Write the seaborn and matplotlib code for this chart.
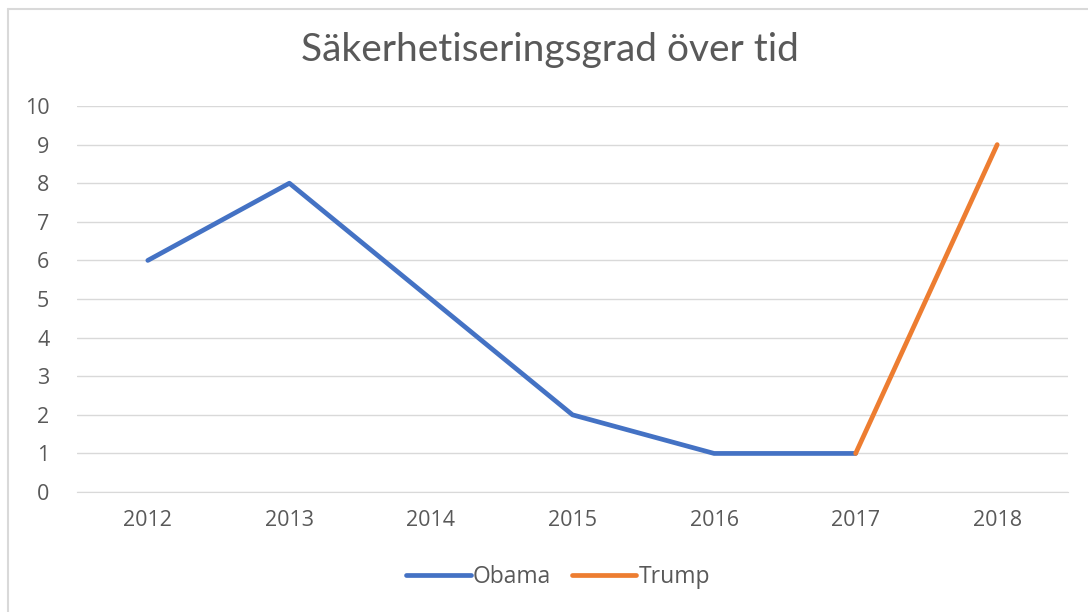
import matplotlib
matplotlib.use("Agg")
import matplotlib.pyplot as plt
import pandas as pd
import seaborn as sns
from matplotlib.lines import Line2D

# data
years_obama = [2012, 2013, 2014, 2015, 2016, 2017]
values_obama = [6, 8, 5, 2, 1, 1]
years_trump = [2017, 2018]
values_trump = [1, 9]
title = "Säkerhetiseringsgrad över tid"

df = pd.concat([
    pd.DataFrame({"year": years_obama, "value": values_obama, "president": "Obama"}),
    pd.DataFrame({"year": years_trump, "value": values_trump, "president": "Trump"}),
])

sns.set_style("white")
plt.rcParams['font.family'] = ['Open Sans', 'DejaVu Sans']

palette = {"Obama": "#4472C4", "Trump": "#ED7D31"}
grey = "#595959"

fig = plt.figure(figsize=(10.88, 6.12), dpi=100)
ax = fig.add_axes([0.0708, 0.196, 0.9108, 0.6308])

sns.lineplot(data=df, x="year", y="value", hue="president", palette=palette,
             linewidth=3.4, ax=ax, legend=False, sort=False)

ax.set_xlim(2011.5, 2018.5)
ax.set_ylim(0, 10)
ax.set_yticks(range(0, 11))
ax.set_xticks(range(2012, 2019))
ax.yaxis.grid(True, color="#D9D9D9", linewidth=1)
ax.set_axisbelow(True)
for s in ["top", "right", "left"]:
    ax.spines[s].set_visible(False)
ax.spines["bottom"].set_color("#D9D9D9")
ax.tick_params(axis="both", length=0, labelsize=15.5, labelcolor=grey)
ax.tick_params(axis="y", pad=20)
ax.tick_params(axis="x", pad=13)
ax.set_xlabel("")
ax.set_ylabel("")

fig.text(0.505, 0.918, title, ha="center", va="center", fontsize=28,
         color=grey, family=["Lato", "DejaVu Sans"])

handles = [Line2D([], [], color=palette[k], linewidth=3.4) for k in ["Obama", "Trump"]]
fig.legend(handles, ["Obama", "Trump"], loc="center", bbox_to_anchor=(0.513, 0.057),
           ncol=2, frameon=False, fontsize=16.5, handlelength=2.8, handletextpad=0.1,
           columnspacing=0.9, labelcolor=grey)

# chart border (left and top edges visible)
fig.add_artist(Line2D([0.0075, 0.0075], [0, 0.986], color="#D9D9D9", linewidth=1.5,
                      transform=fig.transFigure))
fig.add_artist(Line2D([0.0075, 1], [0.986, 0.986], color="#D9D9D9", linewidth=1.5,
                      transform=fig.transFigure))

fig.savefig("out.png", dpi=100)
